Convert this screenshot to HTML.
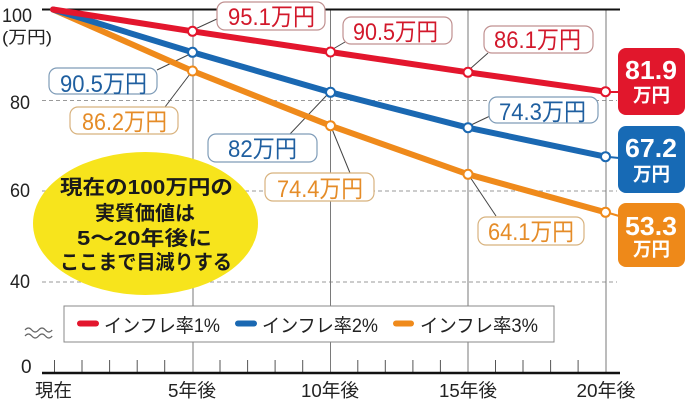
<!DOCTYPE html>
<html><head><meta charset="utf-8"><style>
html,body{margin:0;padding:0;background:#fff;width:686px;height:402px;overflow:hidden}
svg{display:block}
text{font-family:"Liberation Sans","Noto Sans CJK JP",sans-serif}
</style></head><body>
<svg width="686" height="402" viewBox="0 0 686 402" xmlns="http://www.w3.org/2000/svg">
<!-- dashed gridlines -->
<g stroke="#9a9a9a" stroke-width="1" stroke-dasharray="4,3">
<line x1="42" y1="100.5" x2="617" y2="100.5"/>
<line x1="42" y1="191" x2="617" y2="191"/>
<line x1="42" y1="282" x2="617" y2="282"/>
</g>
<!-- verticals -->
<g stroke="#7a7a7a" stroke-width="1">
<line x1="193" y1="10" x2="193" y2="373"/>
<line x1="330.5" y1="10" x2="330.5" y2="373"/>
<line x1="468" y1="10" x2="468" y2="373"/>
<line x1="606" y1="10" x2="606" y2="373"/>
</g>
<!-- ticks -->
<g stroke="#555" stroke-width="1">
<line x1="54.5" y1="360" x2="54.5" y2="373"/><line x1="82" y1="360" x2="82" y2="373"/>
<line x1="109.6" y1="360" x2="109.6" y2="373"/><line x1="137.2" y1="360" x2="137.2" y2="373"/>
<line x1="164.7" y1="360" x2="164.7" y2="373"/>
<line x1="220" y1="360" x2="220" y2="373"/><line x1="247.6" y1="360" x2="247.6" y2="373"/>
<line x1="275.1" y1="360" x2="275.1" y2="373"/><line x1="302.7" y1="360" x2="302.7" y2="373"/>
<line x1="357.8" y1="360" x2="357.8" y2="373"/><line x1="385.3" y1="360" x2="385.3" y2="373"/>
<line x1="412.9" y1="360" x2="412.9" y2="373"/><line x1="440.4" y1="360" x2="440.4" y2="373"/>
<line x1="495.5" y1="360" x2="495.5" y2="373"/><line x1="523" y1="360" x2="523" y2="373"/>
<line x1="550.6" y1="360" x2="550.6" y2="373"/><line x1="578.1" y1="360" x2="578.1" y2="373"/>
</g>
<line x1="42" y1="9.5" x2="620" y2="9.5" stroke="#111" stroke-width="2"/>
<line x1="42" y1="373" x2="620" y2="373" stroke="#111" stroke-width="2.5"/>

<!-- wave -->
<path d="M25 330 q3.4 -4 6.8 0 t6.8 0 t6.8 0 t6.8 0" fill="none" stroke="#666" stroke-width="1.2"/>
<path d="M25 336 q3.4 -4 6.8 0 t6.8 0 t6.8 0 t6.8 0" fill="none" stroke="#666" stroke-width="1.2"/>

<!-- yellow ellipse -->
<ellipse cx="145.5" cy="223.5" rx="112.5" ry="71.5" fill="#f7e41c"/>
<g font-weight="700" font-size="20" fill="#1a1a1a" text-anchor="middle">
<text x="146.5" y="194" textLength="173" lengthAdjust="spacingAndGlyphs">現在の100万円の</text>
<text x="145" y="220" textLength="100" lengthAdjust="spacingAndGlyphs">実質価値は</text>
<text x="144.5" y="245" textLength="135" lengthAdjust="spacingAndGlyphs">5～20年後に</text>
<text x="146" y="269" textLength="172" lengthAdjust="spacingAndGlyphs">ここまで目減りする</text>
</g>

<!-- legend -->
<rect x="64" y="306" width="490" height="36" fill="#fff" stroke="#888" stroke-width="1"/>
<g stroke-width="6" stroke-linecap="round">
<line x1="80" y1="323.5" x2="96" y2="323.5" stroke="#e3162d"/>
<line x1="238" y1="323.5" x2="254" y2="323.5" stroke="#1a68b2"/>
<line x1="396" y1="323.5" x2="411" y2="323.5" stroke="#ef8a1b"/>
</g>
<g font-size="19" fill="#222">
<text x="104" y="332" textLength="116" lengthAdjust="spacingAndGlyphs">インフレ率1%</text>
<text x="262" y="332" textLength="116" lengthAdjust="spacingAndGlyphs">インフレ率2%</text>
<text x="420" y="332" textLength="118" lengthAdjust="spacingAndGlyphs">インフレ率3%</text>
</g>

<!-- leader lines -->
<g stroke="#444" stroke-width="1">
<line x1="193" y1="30" x2="219" y2="18"/>
<line x1="157" y1="70" x2="188" y2="55"/>
<line x1="165" y1="107" x2="190" y2="74"/>
<line x1="333" y1="49" x2="345" y2="42"/>
<line x1="290" y1="134" x2="327" y2="95"/>
<line x1="332" y1="129" x2="350" y2="173"/>
<line x1="470" y1="69" x2="488" y2="53"/>
<line x1="471" y1="125" x2="490" y2="116"/>
<line x1="470" y1="177" x2="496" y2="216"/>
</g>

<!-- series -->
<g fill="none" stroke-width="6" stroke-linejoin="round" stroke-linecap="round">
<polyline points="53,9.5 192.5,71 330.5,125.7 468,174.3 605.5,212.3" stroke="#ef8a1b"/>
<polyline points="53,9.5 192.5,52.3 330.5,92.3 468,127.7 605.5,156.7" stroke="#1a68b2"/>
<polyline points="53,9.5 192.5,31.3 330.5,52 468,72.3 605.5,91.7" stroke="#e3162d"/>
</g>
<!-- connectors to end boxes -->
<g stroke-width="2">
<line x1="609" y1="92" x2="619" y2="92" stroke="#e3162d"/>
<line x1="609" y1="157" x2="619" y2="158" stroke="#1a68b2"/>
<line x1="609" y1="213" x2="619" y2="216" stroke="#ef8a1b"/>
</g>
<!-- markers -->
<g fill="#fff" stroke-width="2">
<g stroke="#ef8a1b"><circle cx="192.5" cy="71" r="4.5"/><circle cx="330.5" cy="125.7" r="4.5"/><circle cx="468" cy="174.3" r="4.5"/><circle cx="605.5" cy="212.3" r="4.5"/></g>
<g stroke="#1a68b2"><circle cx="192.5" cy="52.3" r="4.5"/><circle cx="330.5" cy="92.3" r="4.5"/><circle cx="468" cy="127.7" r="4.5"/><circle cx="605.5" cy="156.7" r="4.5"/></g>
<g stroke="#e3162d"><circle cx="192.5" cy="31.3" r="4.5"/><circle cx="330.5" cy="52" r="4.5"/><circle cx="468" cy="72.3" r="4.5"/><circle cx="605.5" cy="91.7" r="4.5"/></g>
</g>

<!-- label boxes -->
<g fill="#fff" stroke-width="1.2">
<rect x="217" y="2" width="108" height="28" rx="8" stroke="#c09090"/>
<rect x="343" y="17" width="109" height="27" rx="8" stroke="#c09090"/>
<rect x="484" y="26" width="109" height="27" rx="8" stroke="#c09090"/>
<rect x="49" y="68" width="108" height="26" rx="8" stroke="#7f9cb8"/>
<rect x="208" y="134" width="109" height="28" rx="8" stroke="#7f9cb8"/>
<rect x="489" y="97" width="109" height="26" rx="8" stroke="#7f9cb8"/>
<rect x="70" y="107" width="108" height="27" rx="8" stroke="#d8b27e"/>
<rect x="265" y="173" width="109" height="28" rx="8" stroke="#d8b27e"/>
<rect x="478" y="217" width="106" height="28" rx="8" stroke="#d8b27e"/>
</g>
<g font-size="24" text-anchor="middle">
<g fill="#d2182b">
<text x="271.5" y="25" textLength="87" lengthAdjust="spacingAndGlyphs">95.1万円</text>
<text x="395.5" y="40" textLength="85" lengthAdjust="spacingAndGlyphs">90.5万円</text>
<text x="537.5" y="48" textLength="87" lengthAdjust="spacingAndGlyphs">86.1万円</text>
</g>
<g fill="#1f5fa0">
<text x="103.5" y="92" textLength="87" lengthAdjust="spacingAndGlyphs">90.5万円</text>
<text x="262.5" y="157" textLength="69" lengthAdjust="spacingAndGlyphs">82万円</text>
<text x="542.5" y="120" textLength="87" lengthAdjust="spacingAndGlyphs">74.3万円</text>
</g>
<g fill="#e58c28">
<text x="124.5" y="130" textLength="85" lengthAdjust="spacingAndGlyphs">86.2万円</text>
<text x="320" y="197" textLength="86" lengthAdjust="spacingAndGlyphs">74.4万円</text>
<text x="531" y="240" textLength="86" lengthAdjust="spacingAndGlyphs">64.1万円</text>
</g>
</g>

<!-- end boxes -->
<rect x="618" y="48" width="67" height="67" rx="8" fill="#e1172c"/>
<rect x="618" y="126" width="67" height="67" rx="8" fill="#176ab5"/>
<rect x="618" y="203" width="67" height="64" rx="8" fill="#ee8919"/>
<g fill="#fff" font-weight="700" text-anchor="middle">
<text x="651" y="79" font-size="26" textLength="52" lengthAdjust="spacingAndGlyphs">81.9</text>
<text x="651.5" y="101.5" font-size="19" textLength="37" lengthAdjust="spacingAndGlyphs">万円</text>
<text x="651" y="157" font-size="26" textLength="52" lengthAdjust="spacingAndGlyphs">67.2</text>
<text x="651.5" y="180.5" font-size="19" textLength="37" lengthAdjust="spacingAndGlyphs">万円</text>
<text x="651" y="235" font-size="26" textLength="52" lengthAdjust="spacingAndGlyphs">53.3</text>
<text x="651.5" y="255.5" font-size="19" textLength="37" lengthAdjust="spacingAndGlyphs">万円</text>
</g>

<!-- axis labels -->
<g fill="#222">
<text x="2" y="22" font-size="19" textLength="30" lengthAdjust="spacingAndGlyphs">100</text>
<text x="2" y="43" font-size="17" textLength="50" lengthAdjust="spacingAndGlyphs">(万円)</text>
<text x="10" y="109" font-size="19" textLength="20" lengthAdjust="spacingAndGlyphs">80</text>
<text x="10" y="197" font-size="19" textLength="20" lengthAdjust="spacingAndGlyphs">60</text>
<text x="10" y="288" font-size="19" textLength="20" lengthAdjust="spacingAndGlyphs">40</text>
<text x="21" y="373" font-size="19">0</text>
</g>
<g fill="#222" font-size="18.5" text-anchor="middle">
<text x="53.5" y="397" textLength="37" lengthAdjust="spacingAndGlyphs">現在</text>
<text x="192" y="397" textLength="48" lengthAdjust="spacingAndGlyphs">5年後</text>
<text x="330" y="397" textLength="58" lengthAdjust="spacingAndGlyphs">10年後</text>
<text x="468" y="397" textLength="58" lengthAdjust="spacingAndGlyphs">15年後</text>
<text x="606" y="397" textLength="59" lengthAdjust="spacingAndGlyphs">20年後</text>
</g>
</svg>
</body></html>
